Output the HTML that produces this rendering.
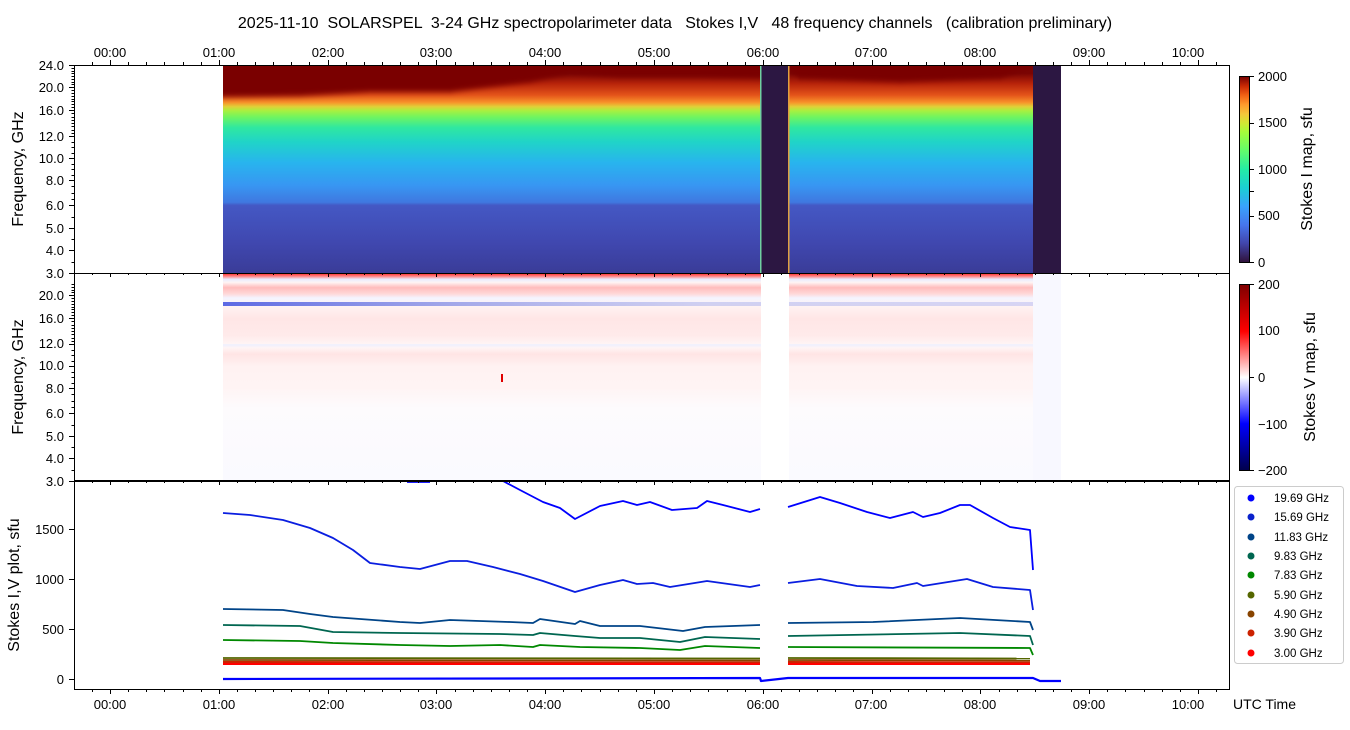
<!DOCTYPE html>
<html><head><meta charset="utf-8"><style>
body{margin:0;background:#fff;width:1350px;height:725px;overflow:hidden}
svg{font-family:"Liberation Sans","DejaVu Sans",sans-serif}
</style></head><body>
<svg id="s" width="1350" height="725" xmlns="http://www.w3.org/2000/svg">
<defs>
<filter id="bl" x="-5%" y="-20%" width="110%" height="140%"><feGaussianBlur stdDeviation="0 3"/></filter>
<linearGradient id="gI" x1="0" y1="65" x2="0" y2="273" gradientUnits="userSpaceOnUse">
<stop offset="0" stop-color="#7a0403"/>
<stop offset="0.04" stop-color="#7a0403"/>
<stop offset="0.09" stop-color="#b8240a"/>
<stop offset="0.145" stop-color="#e4541a"/>
<stop offset="0.18" stop-color="#f8922a"/>
<stop offset="0.20" stop-color="#e0d038"/>
<stop offset="0.22" stop-color="#a8f040"/>
<stop offset="0.25" stop-color="#70f560"/>
<stop offset="0.30" stop-color="#30e8a0"/>
<stop offset="0.37" stop-color="#20d4c8"/>
<stop offset="0.47" stop-color="#28b4ee"/>
<stop offset="0.58" stop-color="#3896f2"/>
<stop offset="0.66" stop-color="#3f78e0"/>
<stop offset="0.675" stop-color="#4458c4"/>
<stop offset="0.85" stop-color="#4048b0"/>
<stop offset="1" stop-color="#3a3c98"/>
</linearGradient>
<linearGradient id="cbI" x1="0" y1="1" x2="0" y2="0">
<stop offset="0" stop-color="#30123b"/><stop offset="0.1" stop-color="#4145ab"/>
<stop offset="0.2" stop-color="#4675ed"/><stop offset="0.3" stop-color="#39a2fc"/>
<stop offset="0.4" stop-color="#1bcfd4"/><stop offset="0.5" stop-color="#24eca6"/>
<stop offset="0.6" stop-color="#61fc6c"/><stop offset="0.7" stop-color="#a4fc3b"/>
<stop offset="0.75" stop-color="#d1e834"/><stop offset="0.8" stop-color="#f3c63a"/>
<stop offset="0.85" stop-color="#fe9b2d"/><stop offset="0.9" stop-color="#f36315"/>
<stop offset="0.95" stop-color="#cb2a04"/><stop offset="1" stop-color="#7a0403"/>
</linearGradient>
<linearGradient id="cbV" x1="0" y1="1" x2="0" y2="0">
<stop offset="0" stop-color="#00004c"/><stop offset="0.25" stop-color="#0000ff"/>
<stop offset="0.5" stop-color="#ffffff"/><stop offset="0.75" stop-color="#ff0000"/>
<stop offset="1" stop-color="#800000"/>
</linearGradient>
<linearGradient id="vb" x1="0" y1="273" x2="0" y2="481" gradientUnits="userSpaceOnUse">
<stop offset="0" stop-color="#ff2020"/>
<stop offset="0.015" stop-color="#ff8080"/>
<stop offset="0.03" stop-color="#e8ecff"/>
<stop offset="0.045" stop-color="#fff4f4"/>
<stop offset="0.07" stop-color="#ffbcbc"/>
<stop offset="0.10" stop-color="#ffd8d8"/>
<stop offset="0.12" stop-color="#f4f4ff"/>
<stop offset="0.16" stop-color="#fff2f2"/>
<stop offset="0.22" stop-color="#ffe6e6"/>
<stop offset="0.30" stop-color="#ffeaea"/>
<stop offset="0.34" stop-color="#fff4f4"/>
<stop offset="0.345" stop-color="#eef0ff"/>
<stop offset="0.36" stop-color="#fff4f4"/>
<stop offset="0.39" stop-color="#ffe4e4"/>
<stop offset="0.45" stop-color="#fff2f2"/>
<stop offset="0.55" stop-color="#fff4f4"/>
<stop offset="0.65" stop-color="#fdfbfd"/>
<stop offset="1" stop-color="#fafaff"/>
</linearGradient>
<linearGradient id="bb" x1="223" y1="0" x2="1033" y2="0" gradientUnits="userSpaceOnUse">
<stop offset="0" stop-color="#4050e0" stop-opacity="0.85"/>
<stop offset="0.3" stop-color="#6070e0" stop-opacity="0.55"/>
<stop offset="0.6" stop-color="#8090e8" stop-opacity="0.35"/>
<stop offset="1" stop-color="#a0a8f0" stop-opacity="0.4"/>
</linearGradient>
</defs>

<text x="675" y="28" font-size="16" text-anchor="middle" fill="#000" style="white-space:pre">2025-11-10  SOLARSPEL  3-24 GHz spectropolarimeter data   Stokes I,V   48 frequency channels   (calibration preliminary)</text>

<!-- top spectrogram -->
<rect x="223" y="65" width="538" height="208" fill="url(#gI)"/>
<rect x="789" y="65" width="244" height="208" fill="url(#gI)"/>
<g filter="url(#bl)">
<polygon fill="#7a0403" points="223,60 223,97 300,96 370,92 450,92 530,82 570,73 620,77 700,77 760,78 761,60"/>
<polygon fill="#7a0403" points="789,60 789,70 800,78 900,82 1000,78 1033,66 1033,60"/>
</g>
<rect x="200" y="40" width="1050" height="25" fill="#fff"/>
<rect x="761" y="65" width="28" height="208" fill="#2c1742"/>
<rect x="1033" y="65" width="28" height="208" fill="#2c1742"/>
<rect x="760" y="65" width="1.5" height="208" fill="#70d0a0"/>
<rect x="788" y="65" width="1.5" height="208" fill="#e0a040"/>

<!-- middle V -->
<rect x="223" y="274" width="538" height="207" fill="url(#vb)"/>
<rect x="789" y="274" width="244" height="207" fill="url(#vb)"/>
<rect x="1033" y="274" width="28" height="207" fill="#f8f8ff"/>
<rect x="223" y="302" width="810" height="4" fill="url(#bb)"/>
<rect x="761" y="274" width="28" height="207" fill="#fff"/>
<rect x="501" y="374" width="2" height="8" fill="#e00000"/>

<!-- bottom lines -->
<g fill="none" stroke-width="1.8" stroke-linejoin="round">
<polyline stroke="#0000ff" points="407,482 430,482"/>
<polyline stroke="#0000ff" points="503,481 520,490 543,502 560,508 575,519 600,506 623,501 637,505 650,502 672,510 697,508 707,501 723,505 750,512 760,509"/>
<polyline stroke="#0000ff" points="788,507 820,497 840,503 867,512 890,518 913,512 923,517 940,513 960,505 970,505 993,518 1010,527 1030,530 1033,570"/>
<polyline stroke="#0a1ee0" points="223,513 250,515 283,520 310,528 333,538 353,550 370,563 400,567 420,569 450,561 467,561 493,567 520,574 543,581 575,592 600,585 623,580 637,584 653,583 670,587 707,581 750,587 760,585"/>
<polyline stroke="#0a1ee0" points="788,583 820,579 857,586 893,588 917,583 923,586 967,579 993,587 1030,590 1033,610"/>
<polyline stroke="#004488" points="223,609 283,610 310,614 333,617 400,622 420,623 450,620 510,622 533,623 540,619 575,624 580,621 600,626 640,626 683,631 705,627 760,625"/>
<polyline stroke="#004488" points="788,623 873,622 960,618 1030,622 1033,630"/>
<polyline stroke="#006650" points="223,625 300,626 333,632 400,633 500,634 533,635 540,633 575,636 600,638 640,638 680,642 705,637 760,639"/>
<polyline stroke="#006650" points="788,636 960,633 1030,636 1033,645"/>
<polyline stroke="#008800" points="223,640 300,641 333,643 400,645 450,646 500,645 533,647 540,645 580,647 640,648 680,650 705,646 760,648"/>
<polyline stroke="#008800" points="788,647 1030,648 1033,655"/>
<polyline stroke="#556600" points="223,658 760,658.5"/><polyline stroke="#556600" points="788,658 1030,658.5"/>
<polyline stroke="#884400" points="223,660 760,660.5"/><polyline stroke="#884400" points="788,660 1030,660.5"/>
<polyline stroke="#cc2200" stroke-width="2" points="223,662 760,662.5"/><polyline stroke="#cc2200" stroke-width="2" points="788,662 1030,662.5"/>
<polyline stroke="#ff0000" stroke-width="2" points="223,664 760,664"/><polyline stroke="#ff0000" stroke-width="2" points="788,664 1030,664"/>
<polyline stroke="#0000ff" stroke-width="2.2" points="223,679 760,678 761,681 788,678 1033,678 1040,681 1061,681"/>
</g>

<!-- frames -->
<g fill="none" stroke="#000" stroke-width="1">
<rect x="74.5" y="65.5" width="1155" height="415"/>
<rect x="74.5" y="481.5" width="1155" height="208"/>
<line x1="74" y1="273.5" x2="1229" y2="273.5"/>
<rect x="1239.5" y="76.5" width="10" height="186"/>
<rect x="1239.5" y="284.5" width="10" height="186"/>
</g>
<rect x="1240" y="77" width="9" height="185" fill="url(#cbI)"/>
<rect x="1240" y="285" width="9" height="185" fill="url(#cbV)"/>
<g id="ticks" stroke="#000" stroke-width="1"></g>

<g font-size="13" fill="#000" text-anchor="middle">
<text x="110" y="57">00:00</text><text x="219" y="57">01:00</text><text x="328" y="57">02:00</text><text x="436" y="57">03:00</text><text x="545" y="57">04:00</text><text x="654" y="57">05:00</text><text x="763" y="57">06:00</text><text x="871" y="57">07:00</text><text x="980" y="57">08:00</text><text x="1089" y="57">09:00</text><text x="1188" y="57">10:00</text>
<text x="110" y="709">00:00</text><text x="219" y="709">01:00</text><text x="328" y="709">02:00</text><text x="436" y="709">03:00</text><text x="545" y="709">04:00</text><text x="654" y="709">05:00</text><text x="763" y="709">06:00</text><text x="871" y="709">07:00</text><text x="980" y="709">08:00</text><text x="1089" y="709">09:00</text><text x="1188" y="709">10:00</text>
</g>
<text x="1233" y="709" font-size="14">UTC Time</text>
<g font-size="13" fill="#000" text-anchor="end">
<text x="64" y="70">24.0</text><text x="64" y="92">20.0</text><text x="64" y="115">16.0</text><text x="64" y="141">12.0</text><text x="64" y="163">10.0</text><text x="64" y="185">8.0</text><text x="64" y="210">6.0</text><text x="64" y="233">5.0</text><text x="64" y="255">4.0</text><text x="64" y="278">3.0</text>
<text x="64" y="300">20.0</text><text x="64" y="323">16.0</text><text x="64" y="348">12.0</text><text x="64" y="370">10.0</text><text x="64" y="393">8.0</text><text x="64" y="418">6.0</text><text x="64" y="441">5.0</text><text x="64" y="463">4.0</text><text x="64" y="486">3.0</text>
<text x="64" y="534">1500</text><text x="64" y="584">1000</text><text x="64" y="634">500</text><text x="64" y="684">0</text>
</g>
<g font-size="13" fill="#000">
<text x="1258" y="81">2000</text><text x="1258" y="127">1500</text><text x="1258" y="174">1000</text><text x="1258" y="220">500</text><text x="1258" y="267">0</text>
<text x="1258" y="289">200</text><text x="1258" y="335">100</text><text x="1258" y="382">0</text><text x="1258" y="429">−100</text><text x="1258" y="475">−200</text>
</g>
<g font-size="16" fill="#000" text-anchor="middle">
<text transform="translate(23,169) rotate(-90)">Frequency, GHz</text>
<text transform="translate(23,377) rotate(-90)">Frequency, GHz</text>
<text transform="translate(19,585) rotate(-90)">Stokes I,V plot, sfu</text>
<text transform="translate(1312,169) rotate(-90)">Stokes I map, sfu</text>
<text transform="translate(1315,377) rotate(-90)">Stokes V map, sfu</text>
</g>
<!-- legend -->
<rect x="1234.5" y="486.5" width="109" height="177" rx="3" fill="#fff" stroke="#ccc"/>
<g font-size="11.5" fill="#000">
<circle cx="1251" cy="498" r="3.5" fill="#0000ff"/><text x="1274" y="502">19.69 GHz</text>
<circle cx="1251" cy="517" r="3.5" fill="#0a22cc"/><text x="1274" y="521">15.69 GHz</text>
<circle cx="1251" cy="537" r="3.5" fill="#004488"/><text x="1274" y="541">11.83 GHz</text>
<circle cx="1251" cy="556" r="3.5" fill="#006650"/><text x="1274" y="560">9.83 GHz</text>
<circle cx="1251" cy="575" r="3.5" fill="#008800"/><text x="1274" y="579">7.83 GHz</text>
<circle cx="1251" cy="595" r="3.5" fill="#556600"/><text x="1274" y="599">5.90 GHz</text>
<circle cx="1251" cy="614" r="3.5" fill="#884400"/><text x="1274" y="618">4.90 GHz</text>
<circle cx="1251" cy="633" r="3.5" fill="#cc2200"/><text x="1274" y="637">3.90 GHz</text>
<circle cx="1251" cy="653" r="3.5" fill="#ff0000"/><text x="1274" y="657">3.00 GHz</text>
</g>
</svg>
<script>
(function(){
var g=document.getElementById('ticks'),h='';
function L(x1,y1,x2,y2){h+='<line x1="'+x1+'" y1="'+y1+'" x2="'+x2+'" y2="'+y2+'"/>';}
var px=108.8;
for(var m=-20;m<=620;m+=10){var x=(110+m/60*px);if(x<74||x>1229)continue;x=Math.round(x)+0.5;var maj=(m%60==0);var l=maj?5:3;
L(x,65,x,65-l);L(x,689,x,689+l);L(x,481,x,481+(maj?4:2));L(x,273,x,273+(maj?4:2));}
var fy=[[3,273],[4,250],[5,228],[6,205],[8,180],[10,158],[12,136],[16,110],[20,87],[24,65]];
function Y(f){for(var i=0;i<fy.length-1;i++){var a=fy[i],b=fy[i+1];if(f<=b[0])return a[1]+(f-a[0])/(b[0]-a[0])*(b[1]-a[1]);}return 65;}
var majs=[3,4,5,6,8,10,12,16,20,24];
for(var f=3;f<=24.001;f+=0.5){var y=Y(f);var mj=majs.indexOf(f)>=0;var l=mj?5:2.5;
[0,208].forEach(function(o){var yy=Math.round(y+o)+0.5;if(o==208&&f>22)return;L(74,yy,74-l,yy);});}
[0,500,1000,1500].forEach(function(v){var y=679.5-v*0.1;L(74,y,69,y);});
for(var v=0;v<=2000;v+=500){var y=Math.round(262-v*0.093)+0.5;L(1249,y,1254,y);}
for(var v=-200;v<=200;v+=100){var y=Math.round(377-v*0.93)+0.5;L(1249,y,1254,y);}
g.innerHTML=h;})();
</script>
</body></html>
